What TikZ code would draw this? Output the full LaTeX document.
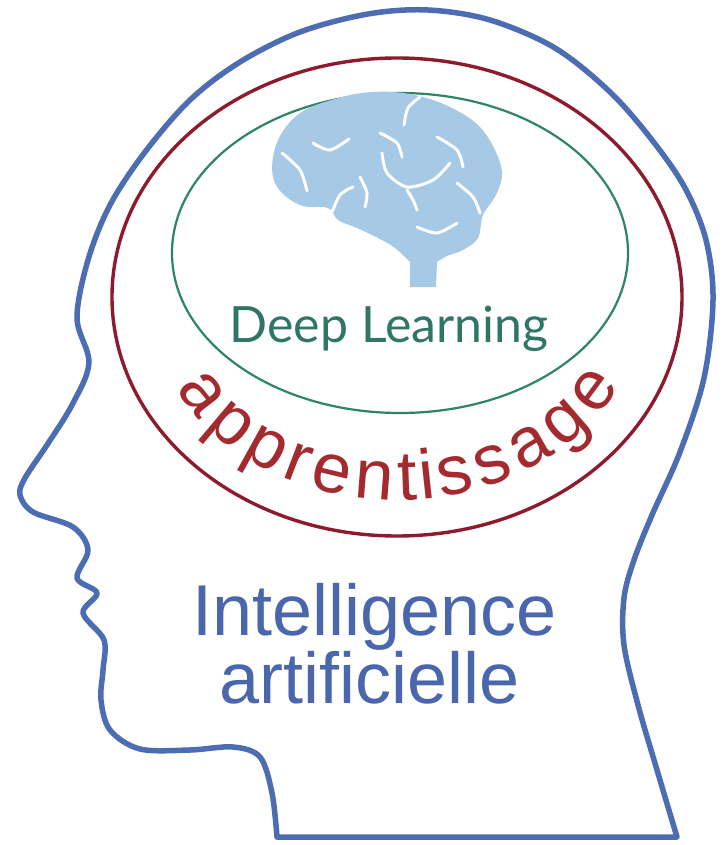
\documentclass[tikz,border=0pt]{standalone}
\usepackage{fontspec}
\setmainfont{Liberation Sans}
\newfontfamily\dlfont{Lato}
\usetikzlibrary{decorations.text}
\definecolor{headblue}{HTML}{4D6DB3}
\definecolor{ringred}{HTML}{8E1B2D}
\definecolor{ringgreen}{HTML}{2D8468}
\definecolor{apred}{HTML}{A32A2F}
\definecolor{iablue}{HTML}{4A67AD}
\definecolor{brainblue}{HTML}{A6C9E6}
\definecolor{dlgreen}{HTML}{2F7665}
\begin{document}
\begin{tikzpicture}[x=1pt,y=-1pt,
  headline/.style={draw=headblue,line width=5.5pt,line join=round,line cap=round},
  redring/.style={draw=ringred,line width=3.4pt},
  greenring/.style={draw=ringgreen,line width=2.2pt},
  sulcus/.style={draw=white,line width=3pt,line cap=round},
  label/.style={inner sep=0pt,anchor=base}]
\fill[white] (0,0) rectangle (721,845);
\useasboundingbox (0,0) rectangle (721,845);

% head profile
\draw[headline] plot[smooth,tension=0.55] coordinates {
  (677,837) (657,770) (638,705) (624,645) (624,598) (634,560) (652,515)
  (680,452) (704,378) (713,300) (706,240) (685,188) (652,140) (610,92)
  (555,48) (490,20) (428,10) (368,14) (300,32) (240,62) (190,100)
  (145,152) (110,205) (88,260) (77,318) (89,363) (72,405) (47,445)
  (25,478) (20,495) (33,512) (73,527) (88,550) (77,578) (97,593)
  (83,613) (104,640) (103,670) (101,700) (110,730) (140,749) (190,750)
  (233,747) (260,757) (272,793) (277,837)} -- cycle;

% nested domains
\draw[redring] (397,297) ellipse[x radius=285,y radius=239];
\draw[greenring] (400,253) ellipse[x radius=228,y radius=160];

% brain
\fill[brainblue] plot[smooth,tension=0.6] coordinates {
  (437,262) (447,256) (463,250) (478,238) (483,215) (496,195) (502,173)
  (494,148) (478,125) (452,108) (423,97) (393,92) (362,93) (335,99)
  (305,110) (285,128) (274,152) (273,177) (283,194) (303,206) (328,208)
  (338,220) (357,228) (378,238) (395,248) (410,262)} -- (410,287) -- (436,287) -- cycle;
\draw[sulcus] plot[smooth] coordinates {(313,143) (330,150) (349,139)};
\draw[sulcus] plot[smooth] coordinates {(282,153) (300,170) (307,191)};
\draw[sulcus] plot[smooth] coordinates {(404,125) (408,108) (420,97)};
\draw[sulcus] plot[smooth] coordinates {(380,133) (397,143) (402,157)};
\draw[sulcus] plot[smooth] coordinates {(382,153) (387,173) (407,187) (433,180) (450,163)};
\draw[sulcus] plot[smooth] coordinates {(437,137) (457,150) (463,167)};
\draw[sulcus] plot[smooth] coordinates {(360,177) (367,193) (365,207)};
\draw[sulcus] plot[smooth] coordinates {(330,217) (340,195) (353,187)};
\draw[sulcus] plot[smooth] coordinates {(407,190) (413,200) (417,210)};
\draw[sulcus] plot[smooth] coordinates {(457,183) (473,197) (480,213)};
\draw[sulcus] plot[smooth] coordinates {(417,227) (437,233) (457,223)};

% labels
\node[label,text=dlgreen,font=\dlfont\fontsize{50}{50}\selectfont] (dl) at (389,342) {Deep Learning};
\node[label,text=iablue,font=\fontsize{72}{72}\selectfont] (ia1) at (374.5,635) {Intelligence};
\node[label,text=iablue,font=\fontsize{72}{72}\selectfont] (ia2) at (369.5,703) {artificielle};

% curved label inside the red domain
\begin{scope}[y=1pt]
\path[decorate,decoration={text effects along path,text={apprentissage},text align=center,
   text effects/.cd,text along path,fit text to path,
   characters={font=\fontsize{70}{70}\selectfont,text=apred}}]
  (397,-297) ++(207:248 and 203) arc[start angle=207,end angle=334,x radius=248,y radius=203];
\end{scope}
\end{tikzpicture}
\end{document}
